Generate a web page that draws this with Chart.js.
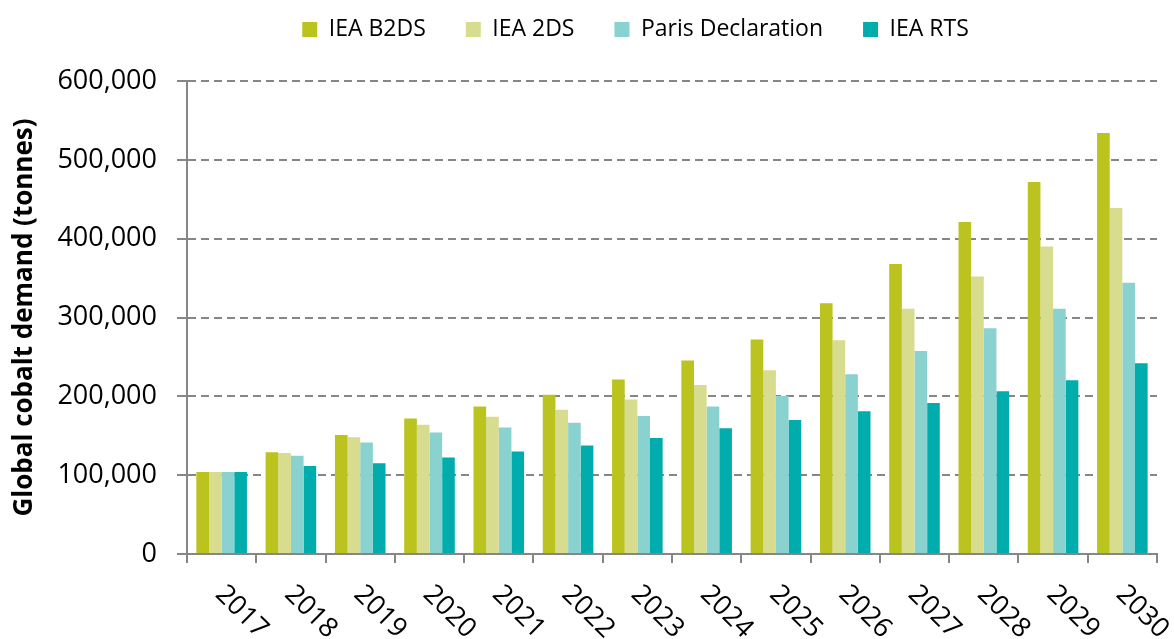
<!DOCTYPE html>
<html>
<head>
<meta charset="utf-8">
<script src="https://cdn.jsdelivr.net/npm/chart.js@4.4.0/dist/chart.umd.min.js"></script>
<style>
  html, body { margin: 0; padding: 0; background: #fff; }
</style>
</head>
<body>
<canvas id="cobaltChart" width="1174" height="639"></canvas>
<script>
const years = ["2017", "2018", "2019", "2020", "2021", "2022", "2023", "2024", "2025", "2026", "2027", "2028", "2029", "2030"];
const b2ds = [104000, 129000, 151000, 172000, 187000, 202000, 221500, 245500, 272000, 318000, 368000, 421000, 472000, 534000];
const twoDs = [104000, 128000, 148000, 164000, 174000, 183000, 196000, 214500, 233000, 271000, 311000, 352000, 390000, 439000];
const paris = [104000, 124500, 141500, 154000, 160500, 166500, 175000, 187000, 200500, 228000, 257500, 286500, 311000, 344000];
const rts = [104000, 111500, 115000, 122500, 130000, 137500, 147000, 159500, 170000, 181000, 191500, 206500, 220500, 242000];
const yTicks = [0, 100000, 200000, 300000, 400000, 500000, 600000];

const FONT = "'Open Sans', 'Liberation Sans', sans-serif";
const AXIS_GREY = "#868686";

// legend sits left of canvas centre in the original, nudge it there
const legendShift = {
  id: "legendShift",
  afterLayout(chart) {
    const lg = chart.legend;
    lg.left += 57;
    lg.right += 57;
    lg.top -= 30;
    lg.bottom -= 30;
  }
};

// year labels slant down to the right, which chart.js can't do by itself
const slantedYears = {
  id: "slantedYears",
  afterDraw(chart) {
    const xs = chart.scales.x;
    const ctx = chart.ctx;
    ctx.save();
    ctx.font = "27px " + FONT;
    ctx.fillStyle = "#000";
    ctx.textAlign = "left";
    ctx.textBaseline = "middle";
    years.forEach((yr, i) => {
      ctx.save();
      ctx.translate(xs.getPixelForValue(i) - 2, xs.top + 36);
      ctx.rotate(Math.PI / 4);
      ctx.fillText(yr, 0, 0);
      ctx.restore();
    });
    ctx.restore();
  }
};

new Chart(document.getElementById("cobaltChart"), {
  type: "bar",
  data: {
    labels: years,
    datasets: [
      { label: "IEA B2DS", data: b2ds, backgroundColor: "#bbc31f" },
      { label: "IEA 2DS", data: twoDs, backgroundColor: "#d8dc8f" },
      { label: "Paris Declaration", data: paris, backgroundColor: "#89d2cf" },
      { label: "IEA RTS", data: rts, backgroundColor: "#00adac" }
    ]
  },
  options: {
    responsive: false,
    animation: false,
    datasets: { bar: { categoryPercentage: 0.73, barPercentage: 1.0, borderWidth: 0 } },
    layout: { padding: { top: 8, left: 0, right: 17, bottom: 0 } },
    plugins: {
      tooltip: { enabled: false },
      legend: {
        position: "top",
        labels: {
          boxWidth: 15,
          boxHeight: 15,
          padding: 40,
          color: "#000",
          font: { family: FONT, size: 23 }
        }
      }
    },
    scales: {
      x: {
        grid: { drawOnChartArea: false, drawTicks: true, tickLength: 9, color: AXIS_GREY, lineWidth: 2, offset: true },
        border: { color: AXIS_GREY, width: 2 },
        ticks: { display: false },
        afterFit: s => { s.height = 85; }
      },
      y: {
        min: 0,
        max: 600000,
        afterBuildTicks: s => { s.ticks = yTicks.map(v => ({ value: v })); },
        ticks: {
          color: "#000",
          padding: 20,
          font: { family: FONT, size: 27 },
          callback: v => v.toLocaleString("en-US")
        },
        grid: { color: AXIS_GREY, lineWidth: 2, tickLength: 10, tickBorderDash: [] },
        border: { color: AXIS_GREY, width: 2, dash: [8, 5] },
        title: {
          display: true,
          text: "Global cobalt demand (tonnes)",
          color: "#000",
          font: { family: FONT, size: 26, weight: "bold" },
          padding: { top: 9, bottom: 0 }
        },
        afterFit: s => { s.width = 187; }
      }
    }
  },
  plugins: [legendShift, slantedYears]
});
</script>
</body>
</html>
